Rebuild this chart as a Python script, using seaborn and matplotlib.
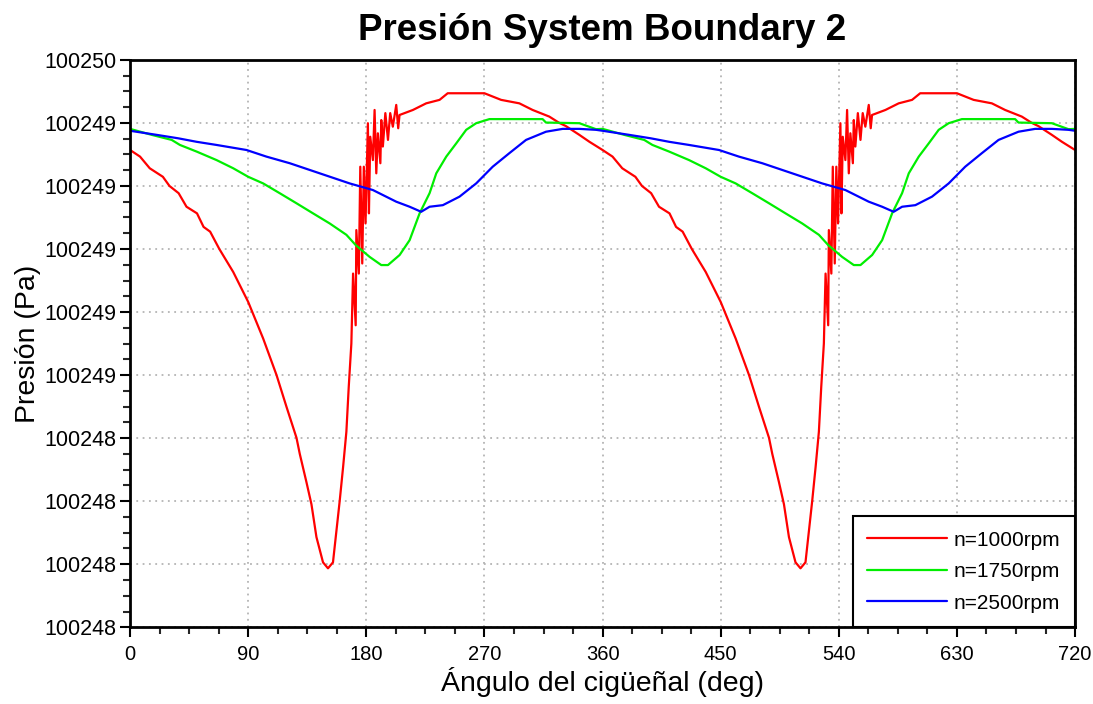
import numpy as np
import pandas as pd
import matplotlib
matplotlib.use('Agg')
import matplotlib.pyplot as plt
import seaborn as sns
from matplotlib.ticker import MultipleLocator, FuncFormatter

sns.set_theme(style="white")
plt.rcParams['font.family'] = ['Liberation Sans', 'DejaVu Sans']
plt.rcParams['text.color'] = 'black'
plt.rcParams['axes.labelcolor'] = 'black'

# one engine cycle (0-360 deg); the chart shows two identical cycles
red_deg = [0, 7.6, 15, 25, 30, 37, 43, 51, 56, 61, 68, 78.6, 90, 101.4, 111.6, 119.2,
           126.8, 129.3, 134.4, 138.2, 142, 147, 150.8, 154.6, 159.7, 162.3, 164.8,
           166.6, 168.6, 169.9, 171.9, 172.4, 174.3, 175.4, 176.9, 178.1, 179.4, 181.2,
           182.0, 183.0, 185.0, 186.3, 187.6, 188.8, 190.7, 191.4, 192.6, 194.5, 196.5,
           198.2, 200.2, 202.8, 204.3, 205.3, 215.5, 225.6, 235.8, 242, 270, 282.7,
           296.6, 306.7, 319.4, 327, 332, 342.3, 350, 360]
red_p = [100249.714, 100249.693, 100249.656, 100249.629, 100249.600, 100249.577,
         100249.534, 100249.513, 100249.470, 100249.455, 100249.400, 100249.327,
         100249.232, 100249.116, 100249.000, 100248.899, 100248.801, 100248.750,
         100248.660, 100248.590, 100248.486, 100248.406, 100248.387, 100248.406,
         100248.600, 100248.708, 100248.820, 100248.962, 100249.100, 100249.322,
         100249.158, 100249.460, 100249.322, 100249.661, 100249.354, 100249.661,
         100249.481, 100249.799, 100249.513, 100249.756, 100249.682, 100249.841,
         100249.640, 100249.767, 100249.672, 100249.809, 100249.725, 100249.831,
         100249.746, 100249.831, 100249.788, 100249.857, 100249.783, 100249.825,
         100249.841, 100249.862, 100249.873, 100249.894, 100249.894, 100249.873,
         100249.862, 100249.841, 100249.820, 100249.800, 100249.790, 100249.762,
         100249.740, 100249.714]

green_deg = [0, 16.5, 31.7, 38, 50.7, 65.9, 78.6, 90, 101.4, 114, 126.8, 139.4, 152.1,
             164.8, 172, 182.5, 191.4, 196.5, 205.4, 213, 220.6, 228.2, 233.3, 240.9,
             248.5, 256.1, 263.7, 273.8, 314.3, 316.9, 342.3, 355, 360]
green_p = [100249.781, 100249.762, 100249.746, 100249.730, 100249.709, 100249.682,
           100249.656, 100249.629, 100249.608, 100249.577, 100249.545, 100249.513,
           100249.481, 100249.445, 100249.412, 100249.375, 100249.349, 100249.349,
           100249.381, 100249.428, 100249.513, 100249.577, 100249.640, 100249.693,
           100249.735, 100249.778, 100249.799, 100249.812, 100249.812, 100249.801,
           100249.799, 100249.780, 100249.781]

blue_deg = [0, 20.3, 36.8, 50.7, 65.9, 88.7, 103.9, 121.7, 144.5, 167.3, 185, 202.8,
            213, 221.8, 228.2, 238.3, 251, 263.7, 276.3, 289, 301.7, 316.9, 329.6,
            342.3, 355, 360]
blue_p = [100249.775, 100249.762, 100249.751, 100249.740, 100249.730, 100249.714,
          100249.693, 100249.672, 100249.640, 100249.608, 100249.587, 100249.550,
          100249.534, 100249.518, 100249.534, 100249.539, 100249.566, 100249.608,
          100249.661, 100249.704, 100249.746, 100249.772, 100249.781, 100249.781,
          100249.778, 100249.775]

series = ['n=1000rpm', 'n=1750rpm', 'n=2500rpm']
colors = {'n=1000rpm': '#ff0000', 'n=1750rpm': '#00ee00', 'n=2500rpm': '#0000ff'}

frames = []
for name, deg, p in zip(series, [red_deg, green_deg, blue_deg], [red_p, green_p, blue_p]):
    deg = np.array(deg)
    p = np.array(p)
    # second cycle repeats the first one shifted by 360 deg
    ang = np.concatenate([deg, deg[1:] + 360])
    pres = np.concatenate([p, p[1:]])
    frames.append(pd.DataFrame({'angulo': ang, 'presion': pres, 'serie': name}))
df = pd.concat(frames, ignore_index=True)

fig = plt.figure(figsize=(10.93, 7.04), dpi=100)
ax = fig.add_axes([0.119, 0.109, 0.8646, 0.806])

sns.lineplot(data=df, x='angulo', y='presion', hue='serie', palette=colors,
             estimator=None, sort=False, linewidth=1.6, ax=ax)

ax.set_xlim(0, 720)
ax.set_ylim(100248.2, 100250.0)
ax.xaxis.set_major_locator(MultipleLocator(90))
ax.xaxis.set_minor_locator(MultipleLocator(22.5))
ax.set_yticks(np.arange(100248.2, 100250.01, 0.2))
ax.yaxis.set_minor_locator(MultipleLocator(0.05))
ax.yaxis.set_major_formatter(FuncFormatter(lambda v, pos: str(int(np.floor(v + 1e-6)))))

ax.grid(True, which='major', color='#b4b4b4', linestyle=(0, (1, 2.5)), linewidth=1.3)
for s in ax.spines.values():
    s.set_color('black')
    s.set_linewidth(2)

ax.tick_params(which='major', direction='out', length=7, width=1.5,
               colors='black', bottom=True, left=True, top=False, right=False)
ax.tick_params(axis='y', which='major', labelsize=15.5, pad=3)
ax.tick_params(axis='x', which='major', labelsize=14.5, pad=6)
ax.tick_params(which='minor', direction='out', length=5, width=1.5,
               bottom=True, left=True, top=False, right=False)

ax.set_title('Presión System Boundary 2', fontsize=26.5, fontweight='bold', pad=14)
ax.set_xlabel('Ángulo del cigüeñal (deg)', fontsize=20.5, labelpad=2)
ax.set_ylabel('Presión (Pa)', fontsize=20.5, labelpad=2)

leg = ax.legend(loc='lower right', fontsize=15, frameon=True, fancybox=False,
                borderaxespad=0, handlelength=3.8, labelspacing=0.6,
                borderpad=0.7, handletextpad=0.35)
leg.get_frame().set_edgecolor('black')
leg.get_frame().set_linewidth(1.5)
leg.get_frame().set_alpha(1)

plt.savefig('out.png', dpi=100)
